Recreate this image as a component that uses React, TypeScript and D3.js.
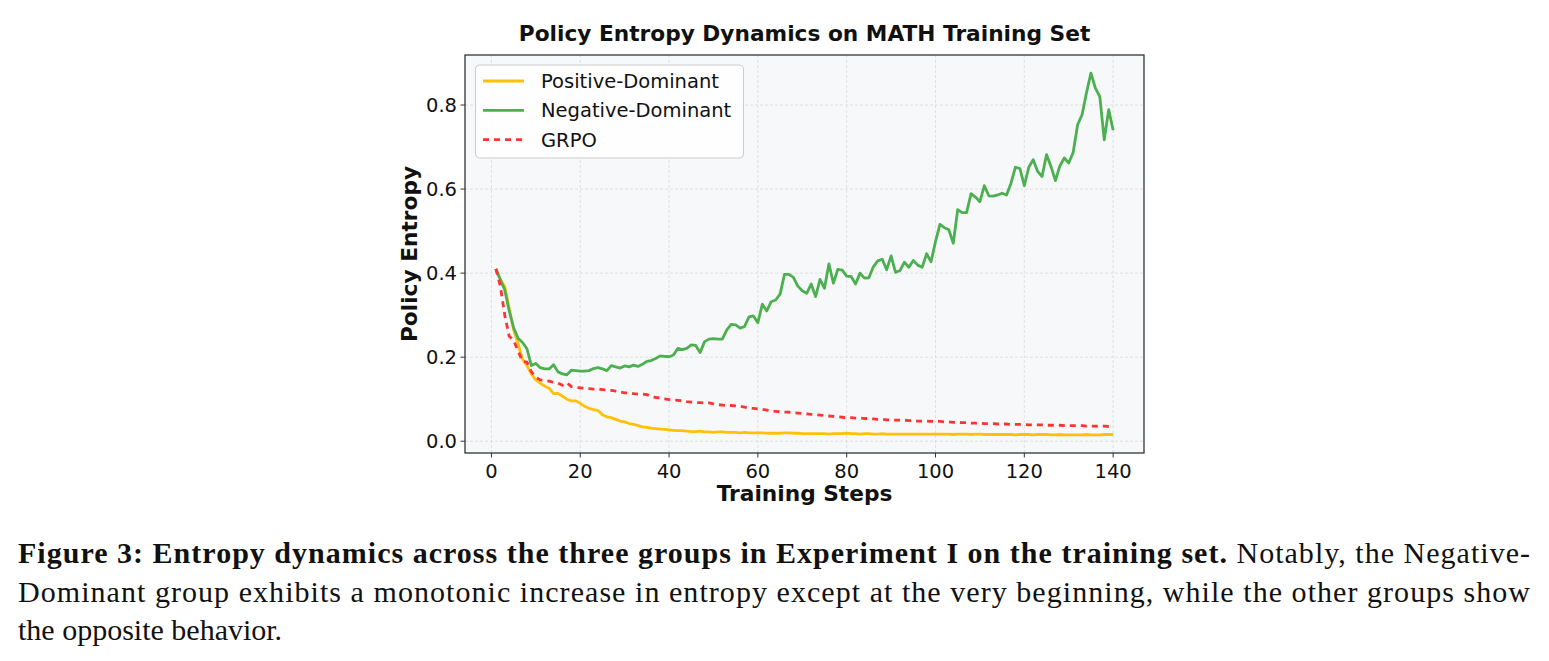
import React, { useEffect, useRef } from "react";
import * as d3 from "d3";

// training steps 1..140
const steps: number[] = d3.range(1, 141);

const positiveDominant: number[] = [
  0.41, 0.385, 0.368, 0.317, 0.265, 0.232, 0.195, 0.18, 0.16, 0.146,
  0.138, 0.131, 0.126, 0.113, 0.114, 0.107, 0.1, 0.096, 0.096, 0.09,
  0.083, 0.078, 0.075, 0.073, 0.063, 0.058, 0.056, 0.052, 0.048, 0.046,
  0.042, 0.04, 0.037, 0.034, 0.033, 0.031, 0.03, 0.029, 0.028, 0.027,
  0.026, 0.025, 0.025, 0.024, 0.023, 0.023, 0.024, 0.022, 0.022, 0.021,
  0.022, 0.022, 0.021, 0.021, 0.021, 0.02, 0.021, 0.02, 0.02, 0.02,
  0.02, 0.019, 0.019, 0.019, 0.019, 0.02, 0.02, 0.019, 0.019, 0.018,
  0.018, 0.018, 0.018, 0.018, 0.018, 0.017, 0.018, 0.018, 0.018, 0.019,
  0.018, 0.018, 0.017, 0.018, 0.018, 0.017, 0.017, 0.018, 0.017, 0.017,
  0.017, 0.017, 0.017, 0.017, 0.017, 0.017, 0.017, 0.017, 0.017, 0.017,
  0.017, 0.017, 0.017, 0.016, 0.017, 0.017, 0.017, 0.016, 0.017, 0.017,
  0.016, 0.016, 0.016, 0.016, 0.016, 0.016, 0.016, 0.015, 0.016, 0.016,
  0.016, 0.015, 0.016, 0.016, 0.016, 0.015, 0.015, 0.016, 0.015, 0.015,
  0.015, 0.015, 0.015, 0.016, 0.015, 0.015, 0.015, 0.016, 0.016, 0.016,
];

const negativeDominant: number[] = [
  0.41, 0.385, 0.36, 0.31, 0.27, 0.245, 0.235, 0.22, 0.18, 0.185,
  0.175, 0.172, 0.172, 0.182, 0.165, 0.16, 0.158, 0.169, 0.168, 0.167,
  0.167, 0.168, 0.173, 0.175, 0.172, 0.168, 0.18, 0.177, 0.174, 0.179,
  0.177, 0.181, 0.178, 0.183, 0.19, 0.192, 0.197, 0.203, 0.202, 0.201,
  0.205, 0.221, 0.218, 0.221, 0.229, 0.228, 0.211, 0.237, 0.243, 0.244,
  0.243, 0.243, 0.265, 0.278, 0.277, 0.269, 0.273, 0.296, 0.298, 0.282,
  0.326, 0.31, 0.332, 0.336, 0.35, 0.397, 0.397, 0.39, 0.369, 0.358,
  0.352, 0.374, 0.344, 0.385, 0.364, 0.422, 0.376, 0.409, 0.407, 0.393,
  0.392, 0.374, 0.4, 0.388, 0.389, 0.415, 0.429, 0.433, 0.408, 0.441,
  0.402, 0.406, 0.426, 0.414, 0.43, 0.419, 0.414, 0.446, 0.427, 0.475,
  0.516, 0.508, 0.503, 0.471, 0.551, 0.544, 0.544, 0.589, 0.581, 0.57,
  0.608, 0.584, 0.583, 0.586, 0.59, 0.586, 0.614, 0.652, 0.649, 0.608,
  0.652, 0.67, 0.642, 0.63, 0.682, 0.654, 0.62, 0.655, 0.674, 0.662,
  0.687, 0.753, 0.777, 0.829, 0.876, 0.84, 0.82, 0.717, 0.789, 0.74,
];

const grpo: number[] = [
  0.41, 0.37, 0.3, 0.25, 0.24, 0.215, 0.19, 0.188, 0.165, 0.152,
  0.146, 0.145, 0.143, 0.14, 0.138, 0.133, 0.139, 0.13, 0.128, 0.127,
  0.126, 0.125, 0.124, 0.124, 0.123, 0.122, 0.121, 0.119, 0.117, 0.115,
  0.115, 0.113, 0.112, 0.112, 0.111, 0.107, 0.104, 0.103, 0.101, 0.099,
  0.098, 0.097, 0.096, 0.094, 0.093, 0.092, 0.092, 0.091, 0.091, 0.089,
  0.087, 0.086, 0.085, 0.085, 0.084, 0.083, 0.081, 0.079, 0.078, 0.077,
  0.076, 0.074, 0.072, 0.071, 0.07, 0.069, 0.069, 0.068, 0.067, 0.066,
  0.065, 0.064, 0.063, 0.062, 0.061, 0.06, 0.059, 0.058, 0.057, 0.056,
  0.056, 0.055, 0.055, 0.054, 0.054, 0.053, 0.052, 0.052, 0.051, 0.051,
  0.05, 0.05, 0.05, 0.049, 0.049, 0.048, 0.048, 0.048, 0.047, 0.047,
  0.047, 0.046, 0.046, 0.045, 0.045, 0.044, 0.044, 0.043, 0.043, 0.043,
  0.042, 0.042, 0.042, 0.041, 0.041, 0.041, 0.04, 0.04, 0.04, 0.04,
  0.039, 0.039, 0.039, 0.039, 0.038, 0.038, 0.038, 0.038, 0.037, 0.037,
  0.037, 0.037, 0.037, 0.036, 0.036, 0.036, 0.036, 0.036, 0.035, 0.036,
];

const xTicks: number[] = [0, 20, 40, 60, 80, 100, 120, 140];
const yTicks: number[] = [0.0, 0.2, 0.4, 0.6, 0.8];

const seriesNames: string[] = ["Positive-Dominant", "Negative-Dominant", "GRPO"];
const seriesColors: string[] = ["#ffc107", "#4caf50", "#ff3333"];

const captionLines = [
  [
    { text: "Figure 3: Entropy dynamics across the three groups in Experiment I on the training set.", bold: true },
    { text: " Notably, the Negative-", bold: false },
  ],
  [{ text: "Dominant group exhibits a monotonic increase in entropy except at the very beginning, while the other groups show", bold: false }],
  [{ text: "the opposite behavior.", bold: false }],
];

const W = 1549;
const H = 661;

const App = () => {
  const svgRef = useRef<SVGSVGElement | null>(null);

  useEffect(() => {
    if (!svgRef.current) return;
    const svg = d3.select(svgRef.current);
    svg.selectAll("*").remove();

    const plot = { left: 465, top: 55, right: 1144, bottom: 453 };
    const font = "'DejaVu Sans', sans-serif";

    const allSeries = [positiveDominant, negativeDominant, grpo];
    const xMin = d3.min(steps)!;
    const xMax = d3.max(steps)!;
    const xPad = (xMax - xMin) * 0.05;
    const yMin = d3.min(allSeries.flat())!;
    const yMax = d3.max(allSeries.flat())!;
    const yPad = (yMax - yMin) * 0.05;

    const x = d3.scaleLinear().domain([xMin - xPad, xMax + xPad]).range([plot.left, plot.right]);
    const y = d3.scaleLinear().domain([yMin - yPad, yMax + yPad]).range([plot.bottom, plot.top]);

    // background
    svg.append("rect")
      .attr("x", plot.left).attr("y", plot.top)
      .attr("width", plot.right - plot.left).attr("height", plot.bottom - plot.top)
      .attr("fill", "#f7f8fa");

    // grid
    const grid = svg.append("g").attr("stroke", "#d9d9d9").attr("stroke-width", 0.8).attr("stroke-dasharray", "3,2");
    xTicks.forEach(t => {
      grid.append("line").attr("x1", x(t)).attr("x2", x(t)).attr("y1", plot.top).attr("y2", plot.bottom);
    });
    yTicks.forEach(t => {
      grid.append("line").attr("x1", plot.left).attr("x2", plot.right).attr("y1", y(t)).attr("y2", y(t));
    });

    // lines
    const line = d3.line<number>().x((_, i) => x(steps[i])).y(d => y(d));
    const dashes = [null, null, "6,5"];
    allSeries.forEach((s, i) => {
      svg.append("path")
        .datum(s)
        .attr("d", line)
        .attr("fill", "none")
        .attr("stroke", seriesColors[i])
        .attr("stroke-width", 2.8)
        .attr("stroke-linejoin", "round")
        .attr("stroke-dasharray", dashes[i]);
    });

    // frame
    svg.append("rect")
      .attr("x", plot.left).attr("y", plot.top)
      .attr("width", plot.right - plot.left).attr("height", plot.bottom - plot.top)
      .attr("fill", "none").attr("stroke", "#333").attr("stroke-width", 1.3);

    // ticks
    const tickG = svg.append("g").attr("font-family", font).attr("font-size", 19.5).attr("fill", "#111");
    xTicks.forEach(t => {
      tickG.append("line").attr("x1", x(t)).attr("x2", x(t)).attr("y1", plot.bottom).attr("y2", plot.bottom + 4.5).attr("stroke", "#333");
      tickG.append("text").attr("x", x(t)).attr("y", plot.bottom + 24.5).attr("text-anchor", "middle").text(String(t));
    });
    yTicks.forEach(t => {
      tickG.append("line").attr("x1", plot.left - 4.5).attr("x2", plot.left).attr("y1", y(t)).attr("y2", y(t)).attr("stroke", "#333");
      tickG.append("text").attr("x", plot.left - 8).attr("y", y(t) + 7).attr("text-anchor", "end").text(t.toFixed(1));
    });

    // titles
    svg.append("text")
      .attr("x", (plot.left + plot.right) / 2).attr("y", 41)
      .attr("text-anchor", "middle").attr("font-family", font).attr("font-weight", "bold").attr("font-size", 21.7)
      .attr("fill", "#111")
      .text("Policy Entropy Dynamics on MATH Training Set");
    svg.append("text")
      .attr("x", (plot.left + plot.right) / 2).attr("y", 501)
      .attr("text-anchor", "middle").attr("font-family", font).attr("font-weight", "bold").attr("font-size", 21.7)
      .attr("fill", "#111")
      .text("Training Steps");
    svg.append("text")
      .attr("transform", `translate(417, ${(plot.top + plot.bottom) / 2}) rotate(-90)`)
      .attr("text-anchor", "middle").attr("font-family", font).attr("font-weight", "bold").attr("font-size", 21.7)
      .attr("fill", "#111")
      .text("Policy Entropy");

    // legend
    const lg = svg.append("g");
    lg.append("rect")
      .attr("x", 475.5).attr("y", 65).attr("width", 268).attr("height", 93).attr("rx", 4)
      .attr("fill", "#ffffff").attr("fill-opacity", 0.85).attr("stroke", "#cccccc").attr("stroke-width", 1);
    seriesNames.forEach((name, i) => {
      const ry = 81 + i * 29.3;
      lg.append("line")
        .attr("x1", 483).attr("x2", 524).attr("y1", ry).attr("y2", ry)
        .attr("stroke", seriesColors[i]).attr("stroke-width", 2.8)
        .attr("stroke-dasharray", dashes[i]);
      lg.append("text")
        .attr("x", 541).attr("y", ry + 7).attr("font-family", font).attr("font-size", 19.5).attr("fill", "#111")
        .text(name);
    });

    // caption
    const capFont = "'Liberation Serif', serif";
    const capY = [563, 602, 640];
    captionLines.forEach((segs, i) => {
      const t = svg.append("text")
        .attr("x", 18).attr("y", capY[i])
        .attr("font-family", capFont).attr("font-size", 30).attr("fill", "#111");
      if (i < 2) t.attr("textLength", 1512).attr("lengthAdjust", "spacing");
      segs.forEach(s => {
        t.append("tspan").attr("font-weight", s.bold ? "bold" : "normal").text(s.text);
      });
    });
  }, []);

  return (
    <div style={{ position: "absolute", left: 0, top: 0, width: W, height: H, background: "#fff" }}>
      <svg ref={svgRef} width={W} height={H} style={{ display: "block" }}></svg>
    </div>
  );
};

export default App;
